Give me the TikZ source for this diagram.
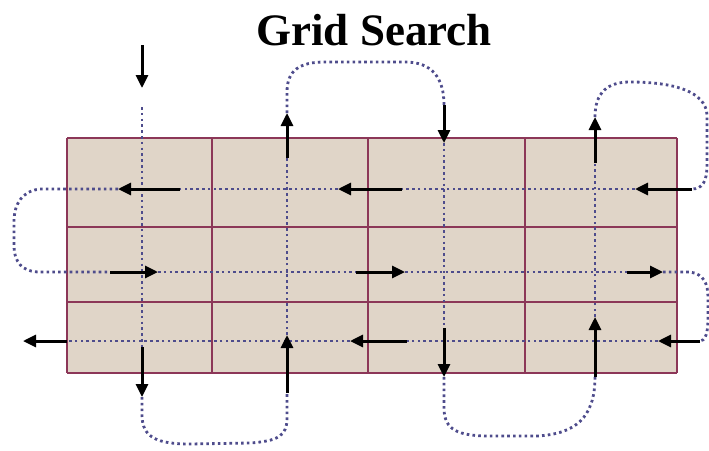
\documentclass[tikz,border=0pt]{standalone}
\usepackage{fontspec}
\setmainfont{Liberation Serif}
\usetikzlibrary{arrows.meta}
\definecolor{cellfill}{RGB}{224,213,200}
\definecolor{cellline}{RGB}{140,55,88}
\definecolor{dotcol}{RGB}{78,76,140}
\begin{document}
\begin{tikzpicture}[
  x=1pt, y=-1pt,
  dots/.style={draw=dotcol, line width=2.8pt, dash pattern=on 2.6pt off 3.2pt},
  arr/.style={-{Triangle[length=13pt,width=12pt]}, line width=3pt, black}
]
  \useasboundingbox (0,0) rectangle (709,450);
  \node[font=\fontsize{45}{50}\selectfont\bfseries, anchor=base] (title) at (374,45) {Grid Search};
  % grid
  \fill[cellfill] (67,138) rectangle (677,373);
  \foreach \x in {67,212,368,525,677}
    \draw[cellline, line width=2.2pt] (\x,138) -- (\x,373);
  \foreach \y in {138,227,302,373}
    \draw[cellline, line width=2.2pt] (67,\y) -- (677,\y);
  % route points
  \foreach \n/\x/\y in {
    in0/142/45, in1/142/88, v1t/142/107,
    v1a/142/347, v1b/142/397,
    v2a/287/393, v2b/287/335, v2c/287/158, v2d/287/113,
    v3a/444/105, v3b/444/143, v3c/444/328, v3d/444/377,
    v4a/595/377, v4b/595/317, v4c/595/163, v4d/595/117,
    h1a/692/189, h1b/635/189, h1c/402/189, h1d/338/189, h1e/180/189, h1f/118/189,
    h2a/110/272, h2b/158/272, h2c/356/272, h2d/405/272, h2e/627/272, h2f/663/272,
    h3a/700/341, h3b/658/341, h3c/407/341, h3d/350/341, h3e/67/341, out/23/341}
    \coordinate (\n) at (\x,\y);
  % dotted route
  \draw[dots] (v1t) -- (v1a);
  \draw[dots] (v1b) -- (142,415) .. controls (142,438) and (158,444) .. (190,444)
    -- (250,443) .. controls (278,441) and (287,436) .. (287,418) -- (v2a);
  \draw[dots] (v2b) -- (v2c);
  \draw[dots] (v2d) -- (287,92) .. controls (287,70) and (300,62) .. (325,62)
    -- (405,62) .. controls (432,62) and (444,78) .. (v3a);
  \draw[dots] (v3b) -- (v3c);
  \draw[dots] (v3d) -- (444,408) .. controls (444,430) and (458,436) .. (490,436)
    -- (537,436) .. controls (575,434) and (595,418) .. (v4a);
  \draw[dots] (v4b) -- (v4c);
  \draw[dots] (v4d) .. controls (595,92) and (608,82) .. (630,82)
    .. controls (675,82) and (706,92) .. (707,115) -- (707,165)
    .. controls (707,182) and (702,189) .. (h1a);
  \draw[dots] (h1b) -- (h1c);
  \draw[dots] (h1d) -- (h1e);
  \draw[dots] (h1f) -- (40,189) .. controls (22,191) and (14,204) .. (14,222)
    -- (14,245) .. controls (14,262) and (22,272) .. (40,272) -- (h2a);
  \draw[dots] (h2b) -- (h2c);
  \draw[dots] (h2d) -- (h2e);
  \draw[dots] (h2f) -- (690,272) .. controls (704,274) and (708,284) .. (708,298)
    -- (708,318) .. controls (708,334) and (705,341) .. (h3a);
  \draw[dots] (h3b) -- (h3c);
  \draw[dots] (h3d) -- (h3e);
  % arrows
  \foreach \a/\b in {in0/in1, v1a/v1b, v2a/v2b, v2c/v2d, v3a/v3b, v3c/v3d,
    v4a/v4b, v4c/v4d, h1a/h1b, h1c/h1d, h1e/h1f, h2a/h2b, h2c/h2d, h2e/h2f,
    h3a/h3b, h3c/h3d, h3e/out}
    \draw[arr] (\a) -- (\b);
\end{tikzpicture}
\end{document}
